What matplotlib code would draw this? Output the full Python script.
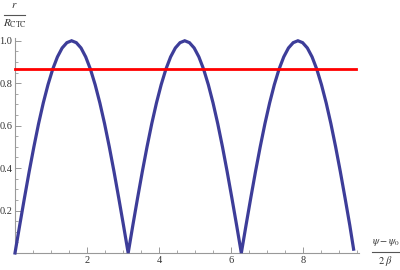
import matplotlib
matplotlib.use("Agg")
import matplotlib.pyplot as plt
from matplotlib.lines import Line2D
from matplotlib.ticker import MultipleLocator, FixedLocator

plt.rcParams['mathtext.fontset'] = 'stix'
plt.rcParams['font.family'] = ['Liberation Serif', 'DejaVu Serif']

# phase values (psi - psi0)/(2 beta)
phase = [0.000, 0.131, 0.262, 0.393, 0.524, 0.654, 0.785, 0.916, 1.047, 1.178,
         1.309, 1.440, 1.571, 1.702, 1.833, 1.963, 2.094, 2.225, 2.356, 2.487,
         2.618, 2.749, 2.880, 3.011, 3.142,
         3.272, 3.403, 3.534, 3.665, 3.796, 3.927, 4.058, 4.189, 4.320, 4.451,
         4.581, 4.712, 4.843, 4.974, 5.105, 5.236, 5.367, 5.498, 5.629, 5.760,
         5.890, 6.021, 6.152, 6.283,
         6.414, 6.545, 6.676, 6.807, 6.938, 7.069, 7.199, 7.330, 7.461, 7.592,
         7.723, 7.854, 7.985, 8.116, 8.247, 8.378, 8.508, 8.639, 8.770, 8.901,
         9.032, 9.163, 9.294, 9.400]
# r / R_CTC
radius = [0.000, 0.131, 0.259, 0.383, 0.500, 0.609, 0.707, 0.793, 0.866, 0.924,
          0.966, 0.991, 1.000, 0.991, 0.966, 0.924, 0.866, 0.793, 0.707, 0.609,
          0.500, 0.383, 0.259, 0.131, 0.000,
          0.131, 0.259, 0.383, 0.500, 0.609, 0.707, 0.793, 0.866, 0.924, 0.966,
          0.991, 1.000, 0.991, 0.966, 0.924, 0.866, 0.793, 0.707, 0.609, 0.500,
          0.383, 0.259, 0.131, 0.000,
          0.131, 0.259, 0.383, 0.500, 0.609, 0.707, 0.793, 0.866, 0.924, 0.966,
          0.991, 1.000, 0.991, 0.966, 0.924, 0.866, 0.793, 0.707, 0.609, 0.500,
          0.383, 0.259, 0.131, 0.018]
# threshold line
thresh_x = [0.0, 9.47]
thresh_y = [0.866, 0.866]

x_ticks = [2, 4, 6, 8]
y_ticks = [0.2, 0.4, 0.6, 0.8, 1.0]
x_ticklabels = ['2', '4', '6', '8']
y_ticklabels = ['0.2', '0.4', '0.6', '0.8', '1.0']

fig = plt.figure(figsize=(4.0, 2.7), dpi=100)
W, H = 400, 270
ax = fig.add_axes([15 / W, 1 - 253 / H, (359 - 15) / W, (253 - 38) / H])
ax.set_xlim(0, 9.55)
ax.set_ylim(0, 1.013)

blue = '#3d3d99'
ax.plot(phase, radius, color=blue, lw=2.3, solid_joinstyle='miter', clip_on=False, zorder=3)
ax.plot(thresh_x, thresh_y, color='#ff0000', lw=2.0, clip_on=False, zorder=4)

for s in ['top', 'right']:
    ax.spines[s].set_visible(False)
for s in ['left', 'bottom']:
    ax.spines[s].set_color('#999999')
    ax.spines[s].set_linewidth(0.8)

ax.xaxis.set_major_locator(FixedLocator(x_ticks))
ax.set_xticklabels(x_ticklabels)
ax.yaxis.set_major_locator(FixedLocator(y_ticks))
ax.set_yticklabels(y_ticklabels)
ax.xaxis.set_minor_locator(MultipleLocator(0.5))
ax.yaxis.set_minor_locator(MultipleLocator(0.05))
ax.tick_params(which='major', direction='in', length=4, width=0.7, color='#999999',
               labelsize=7.5, labelcolor='#333333', pad=2)
ax.tick_params(which='minor', direction='in', length=2.2, width=0.6, color='#999999')

# y-axis label fraction
fig.text(14.5 / W, 1 - 6 / H, r'$r$', ha='center', va='center', fontsize=8, color='#333333')
fig.add_artist(Line2D([4 / W, 25 / W], [1 - 14.5 / H, 1 - 14.5 / H], color='#555555', lw=0.8))
fig.text(15 / W, 1 - 24 / H, r'$R_{\mathrm{CTC}}$', ha='center', va='center', fontsize=8, color='#333333')

# x-axis label fraction
fig.text(385.5 / W, 1 - 243 / H, r'$\psi-\psi_0$', ha='center', va='center', fontsize=7.5, color='#333333')
fig.add_artist(Line2D([372 / W, 399 / W], [1 - 252 / H, 1 - 252 / H], color='#555555', lw=0.8))
fig.text(385.5 / W, 1 - 261.5 / H, r'$2\ \beta$', ha='center', va='center', fontsize=7.5, color='#333333')

fig.savefig('out.png', dpi=100)
